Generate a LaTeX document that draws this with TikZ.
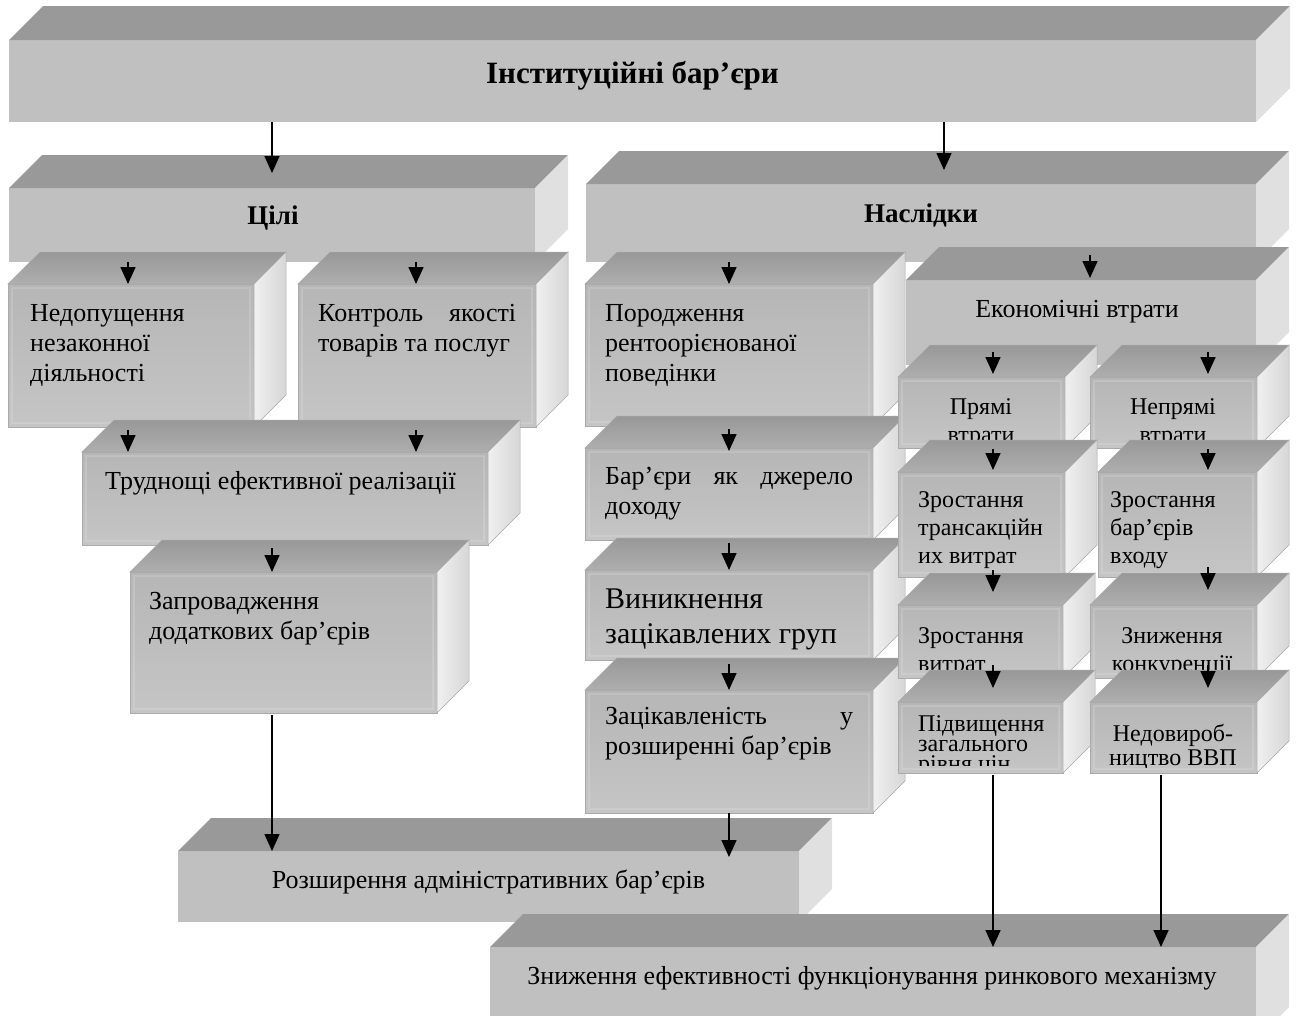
\documentclass[tikz,border=0pt]{standalone}
\usepackage{fontspec}
\setmainfont{Liberation Serif}
\usetikzlibrary{arrows.meta,calc}
\definecolor{ftop}{HTML}{999999}
\definecolor{ffront}{HTML}{C0C0C0}
\definecolor{fside}{HTML}{E0E0E0}
\definecolor{btopA}{HTML}{989898}
\definecolor{btopB}{HTML}{AEAEAE}
\definecolor{bfrontA}{HTML}{B6B6B6}
\definecolor{bfrontB}{HTML}{C5C5C5}
\definecolor{bsideA}{HTML}{D6D6D6}
\definecolor{bsideB}{HTML}{F0F0F0}
\definecolor{bedge}{HTML}{AAAAAA}
\newcounter{tlc}
\tikzset{
  flatfront/.style={fill=ffront, draw=none, inner sep=0pt, outer sep=0pt},
  bevfront/.style={top color=bfrontA, bottom color=bfrontB, draw=bedge, line width=0.6bp, inner sep=0pt, outer sep=0pt},
  txt/.style={inner sep=0pt, font=\fontsize{26bp}{30bp}\selectfont},
  smtxt/.style={inner sep=0pt, font=\fontsize{24bp}{28bp}\selectfont},
  bigtxt/.style={inner sep=0pt, font=\fontsize{30bp}{35bp}\selectfont},
  ttl/.style={inner sep=0pt, font=\fontsize{27bp}{31bp}\selectfont\bfseries},
  arr/.style={line width=1.6bp, -{Triangle[width=15bp,length=17bp]}},
}
% flat cuboid: name, x1, y1, x2, y2, depth
\newcommand{\flatbox}[6]{%
  \node[flatfront, anchor=north west, minimum width={(#4-#2)*1bp}, minimum height={(#5-#3)*1bp}] (#1) at (#2,#3) {};
  \fill[ftop] (#1.north west) -- ++(#6,-#6) -- ([shift={(#6,-#6)}]#1.north east) -- (#1.north east) -- cycle;
  \fill[fside] (#1.north east) -- ++(#6,-#6) -- ([shift={(#6,-#6)}]#1.south east) -- (#1.south east) -- cycle;
}
% bevelled cuboid: name, x1, y1, x2, y2, depth
\newcommand{\bevbox}[6]{%
  \node[bevfront, anchor=north west, minimum width={(#4-#2)*1bp}, minimum height={(#5-#3)*1bp}] (#1) at (#2,#3) {};
  \draw[white, opacity=0.15, line width=2bp] ([shift={(4,4)}]#1.north west) rectangle ([shift={(-4,-4)}]#1.south east);
  \shade[top color=btopA, bottom color=btopB, draw=bedge, line width=0.5bp] (#1.north west) -- ++(#6,-#6) -- ([shift={(#6,-#6)}]#1.north east) -- (#1.north east) -- cycle;
  \shade[left color=bsideB, right color=bsideA, draw=bedge, line width=0.5bp] (#1.north east) -- ++(#6,-#6) -- ([shift={(#6,-#6)}]#1.south east) -- (#1.south east) -- cycle;
}
% one text line: [options] x, baseline y, text
\newcommand{\tline}[4][]{\stepcounter{tlc}\node[txt,anchor=base west,#1] (tl\arabic{tlc}) at (#2,#3) {#4};}
% clip text to front face: name, bottom inset, content
\newcommand{\cliptext}[3]{\begin{scope}\clip (#1.north west) rectangle ([yshift=#2bp]#1.south east); #3 \end{scope}}

\begin{document}
\begin{tikzpicture}[x=1bp,y=-1bp]
\clip (0,0) rectangle (1297,1016);
\fill[white] (0,0) rectangle (1297,1016);

% top
\flatbox{inst}{9}{40}{1256}{122}{34}
\tline[ttl,anchor=base,font=\fontsize{31bp}{35bp}\selectfont\bfseries]{632.5}{83}{Інституційні бар’єри}

\flatbox{cili}{9}{188}{535}{262}{33}
\tline[ttl,anchor=base]{273}{224}{Цілі}
\flatbox{nasl}{586}{184}{1256}{262}{33}
\tline[ttl,anchor=base]{921}{222}{Наслідки}

% left branch
\bevbox{nedop}{8}{284}{254}{427}{32}
\cliptext{nedop}{0}{\tline{30}{321}{Недопущення}\tline{30}{351}{незаконної}\tline{30}{381}{діяльності}}
\bevbox{kontr}{298}{284}{536}{427}{32}
\cliptext{kontr}{0}{\tline{318}{321}{\makebox[198bp][s]{Контроль якості}}\tline{318}{351}{товарів та послуг}}
\bevbox{trudn}{82}{452}{488}{545}{32}
\cliptext{trudn}{0}{\tline{105}{489}{Труднощі ефективної реалізації}}
\bevbox{zaprov}{130}{572}{437}{713}{32}
\cliptext{zaprov}{0}{\tline{149}{609}{Запровадження}\tline{149}{639}{додаткових бар’єрів}}

% middle branch
\bevbox{porod}{585}{284}{873}{426}{32}
\cliptext{porod}{0}{\tline{605}{321}{Породження}\tline{605}{351}{рентоорієнованої}\tline{605}{381}{поведінки}}
\bevbox{barj}{585}{448}{873}{540}{32}
\cliptext{barj}{0}{\tline{605}{484}{\makebox[248bp][s]{Бар’єри як джерело}}\tline{605}{514}{доходу}}
\bevbox{vynyk}{585}{570}{873}{660}{32}
\cliptext{vynyk}{0}{\tline[bigtxt]{605}{608}{Виникнення}\tline[bigtxt]{605}{643}{зацікавлених груп}}
\bevbox{zacik}{585}{690}{873}{813}{32}
\cliptext{zacik}{0}{\tline{605}{724}{\makebox[248bp][s]{Зацікавленість у}}\tline{605}{754}{розширенні бар’єрів}}

% economic losses
\flatbox{econ}{906}{280}{1256}{365}{33}
\tline[anchor=base]{1077}{317}{Економічні втрати}

\bevbox{pryami}{898}{377}{1065}{448}{32}
\cliptext{pryami}{9}{\tline[smtxt,anchor=base]{981}{414}{Прямі}\tline[smtxt,anchor=base]{981}{442}{втрати}}
\bevbox{nepr}{1090}{377}{1257}{448}{32}
\cliptext{nepr}{9}{\tline[smtxt,anchor=base]{1173}{414}{Непрямі}\tline[smtxt,anchor=base]{1173}{442}{втрати}}

\bevbox{zrtr}{898}{472}{1065}{577}{32}
\cliptext{zrtr}{8}{\tline[smtxt]{918}{507}{Зростання}\tline[smtxt]{918}{535}{трансакційн}\tline[smtxt]{918}{563}{их витрат}}
\bevbox{zrbar}{1098}{472}{1257}{577}{32}
\cliptext{zrbar}{8}{\tline[smtxt]{1110}{507}{Зростання}\tline[smtxt]{1110}{535}{бар’єрів}\tline[smtxt]{1110}{563}{входу}}

\bevbox{zrvyt}{898}{605}{1063}{678}{32}
\cliptext{zrvyt}{9}{\tline[smtxt]{918}{643}{Зростання}\tline[smtxt]{918}{671}{витрат}}
\bevbox{znkon}{1090}{605}{1257}{678}{32}
\cliptext{znkon}{9}{\tline[smtxt,anchor=base]{1172}{643}{Зниження}\tline[smtxt,anchor=base]{1172}{671}{конкуренції}}

\bevbox{pidv}{898}{702}{1063}{773}{32}
\cliptext{pidv}{8}{\tline[smtxt]{918}{731}{Підвищення}\tline[smtxt]{918}{751}{загального}\tline[smtxt]{918}{771}{рівня цін}}
\bevbox{nedov}{1090}{702}{1257}{773}{32}
\cliptext{nedov}{6}{\tline[smtxt,anchor=base]{1173}{741}{Недовироб-}\tline[smtxt,anchor=base]{1173}{765}{ництво ВВП}}

% bottom boxes
\flatbox{rozsh}{178}{851}{799}{922}{33}
\tline[anchor=base]{488.5}{888}{Розширення адміністративних бар’єрів}
\flatbox{znyzh}{490}{947}{1256}{1040}{33}
\tline[anchor=base]{872}{984}{Зниження ефективності функціонування ринкового механізму}

% connectors
\draw[arr] (inst.south -| cili.north) -- ($(cili.north)+(0,-15)$);
\draw[arr] ($(inst.south -| nasl.north)+(23,0)$) -- ($(nasl.north)+(23,-14)$);
\draw[arr] ($(cili.south -| nedop.north)+(-3,0)$) -- ($(nedop.north)+(-3,0)$);
\draw[arr] ($(cili.south -| kontr.north)+(-1,0)$) -- ($(kontr.north)+(-1,0)$);
\draw[arr] ($(nedop.south)+(-3,3)$) -- ($(nedop.south |- trudn.north)+(-3,0)$);
\draw[arr] ($(kontr.south)+(-1,3)$) -- ($(kontr.south |- trudn.north)+(-1,0)$);
\draw[arr] ($(trudn.south -| zaprov.north)+(-11.5,3)$) -- ($(zaprov.north)+(-11.5,0)$);
\draw[arr] ($(zaprov.south)+(-11.5,2)$) -- ($(zaprov.south |- rozsh.north)+(-11.5,0)$);
\draw[arr] (nasl.south -| porod.north) -- (porod.north);
\draw[arr] ($(porod.south)+(0,3)$) -- ($(barj.north)+(0,3)$);
\draw[arr] ($(barj.south)+(0,3)$) -- (vynyk.north);
\draw[arr] ($(vynyk.south)+(0,4)$) -- (zacik.north);
\draw[arr] (zacik.south) -- ($(zacik.south |- rozsh.north)+(0,6)$);
\draw[arr] ($(nasl.south -| econ.north)+(9,-7)$) -- ($(econ.north)+(9,-2)$);
\draw[arr] ($(econ.south -| pryami.north)+(11.5,-13)$) -- ($(pryami.north)+(11.5,-3)$);
\draw[arr] ($(econ.south -| nepr.north)+(34.5,-13)$) -- ($(nepr.north)+(34.5,-3)$);
\draw[arr] ($(pryami.south)+(11.5,1)$) -- ($(pryami.south |- zrtr.north)+(11.5,-2)$);
\draw[arr] ($(nepr.south)+(34.5,1)$) -- ($(nepr.south |- zrbar.north)+(34.5,-2)$);
\draw[arr] ($(zrtr.south)+(11.5,-7)$) -- ($(zrtr.south |- zrvyt.north)+(11.5,-13)$);
\draw[arr] ($(zrbar.south)+(30.5,-10)$) -- ($(zrbar.south |- znkon.north)+(30.5,-15)$);
\draw[arr] ($(zrvyt.south)+(12.5,-13)$) -- ($(zrvyt.south |- pidv.north)+(12.5,-14)$);
\draw[arr] ($(znkon.south)+(34.5,-13)$) -- ($(znkon.south |- nedov.north)+(34.5,-14)$);
\draw[arr] ($(pidv.south)+(12.5,2)$) -- ($(pidv.south |- znyzh.north)+(12.5,0)$);
\draw[arr] ($(nedov.south)+(-12.5,2)$) -- ($(nedov.south |- znyzh.north)+(-12.5,0)$);
\end{tikzpicture}
\end{document}
